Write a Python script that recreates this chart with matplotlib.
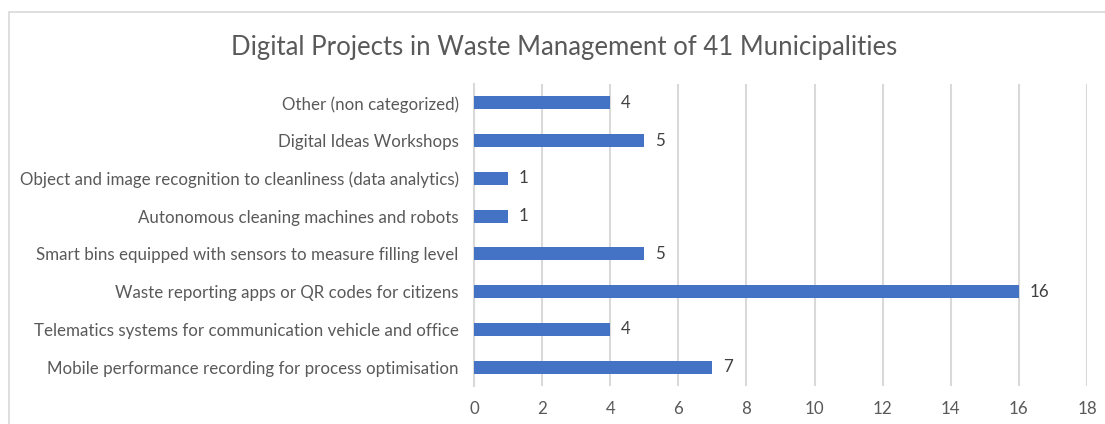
import matplotlib
matplotlib.use("Agg")
import matplotlib.pyplot as plt
from matplotlib.patches import Rectangle

categories = [
    "Mobile performance recording for process optimisation",
    "Telematics systems for communication vehicle and office",
    "Waste reporting apps or QR codes for citizens",
    "Smart bins equipped with sensors to measure filling level",
    "Autonomous cleaning machines and robots",
    "Object and image recognition to cleanliness (data analytics)",
    "Digital Ideas Workshops",
    "Other (non categorized)",
]
values = [7, 4, 16, 5, 1, 1, 5, 4]
xticks = [0, 2, 4, 6, 8, 10, 12, 14, 16, 18]
title = "Digital Projects in Waste Management of 41 Municipalities"

plt.rcParams['font.family'] = ['Lato', 'DejaVu Sans']
W, H = 1105, 424
fig = plt.figure(figsize=(W / 100, H / 100), dpi=100)
fig.patch.set_facecolor("white")

# chart border (Excel chart area)
fig.add_artist(Rectangle((9 / W, -0.1), 1.2, (H - 12) / H + 0.1, transform=fig.transFigure,
                         fill=False, edgecolor="#d9d9d9", linewidth=1.2))

ax = fig.add_axes([474 / W, 1 - 386 / H, (1087 - 474) / W, (386 - 84) / H])
ypos = list(range(len(categories)))
ax.barh(ypos, values, height=0.34, color="#4472c4", zorder=3)
ax.set_ylim(-0.5, len(categories) - 0.5)
ax.set_xlim(0, 18)
ax.set_xticks(xticks)
ax.set_xticklabels([str(t) for t in xticks])
ax.set_yticks(ypos)
ax.set_yticklabels(categories)
ax.tick_params(axis='both', length=0, colors="#595959", labelsize=12.2)
ax.tick_params(axis='y', pad=11)
ax.tick_params(axis='x', pad=11)
for s in ["top", "right", "bottom"]:
    ax.spines[s].set_visible(False)
ax.spines["left"].set_color("#d9d9d9")
ax.spines["left"].set_linewidth(1.5)
ax.grid(axis='x', color="#d9d9d9", linewidth=1.5, zorder=0)
ax.set_axisbelow(True)

for y, v in zip(ypos, values):
    ax.annotate(str(v), (v, y), xytext=(11, 0), textcoords="offset pixels",
                va="center", ha="left", color="#404040", fontsize=12.2)

fig.text(564 / W, 1 - 47 / H, title, ha="center", va="center", fontsize=18.5, color="#595959")

fig.savefig("out.png", dpi=100)
